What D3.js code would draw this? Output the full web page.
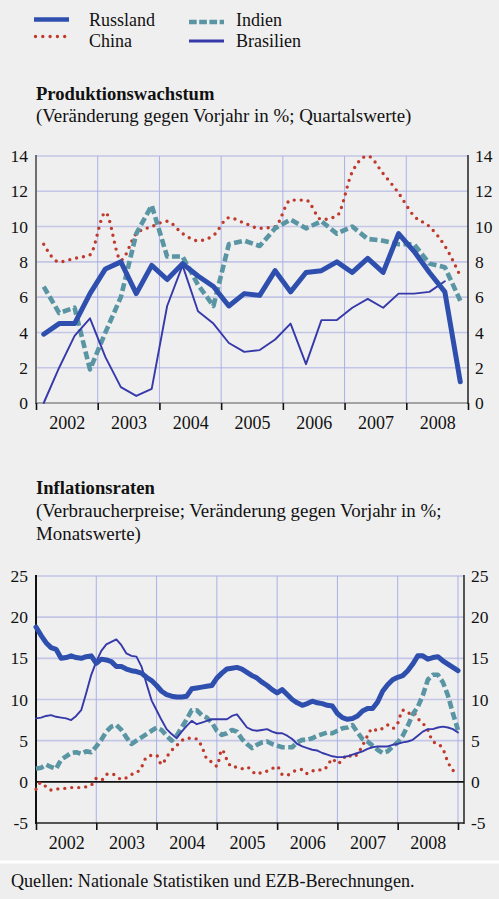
<!DOCTYPE html>
<html><head><meta charset="utf-8">
<script src="https://cdn.jsdelivr.net/npm/d3@7"></script>
<style>
html,body{margin:0;padding:0;background:#efefef;}
svg{display:block;font-family:"Liberation Serif","Times New Roman",serif;}
</style></head><body>
<svg id="c" width="499" height="899"></svg>
<script>
// ---------- DATA ----------
const seriesNames = ["Russland", "China", "Indien", "Brasilien"];
const yearLabels = ["2002","2003","2004","2005","2006","2007","2008"];
const firstYear = 2002;

// Produktionswachstum, quarterly 2002Q1 - 2008Q4
const prodRussland = [3.9,4.5,4.5,6.2, 7.6,8.0,6.2,7.8, 7.0,7.9,7.2,6.6, 5.5,6.2,6.1,7.5, 6.3,7.4,7.5,8.0, 7.4,8.2,7.4,9.6, 8.6,7.4,6.3,1.2];
const prodChina    = [9.0,8.0,8.2,8.4, 10.8,8.1,9.6,10.0, 10.3,9.6,9.2,9.5, 10.5,10.2,9.9,10.0, 11.5,11.5,10.4,10.6, 13.1,14.0,13.0,11.9, 10.6,10.0,8.9,7.2];
const prodIndien   = [6.6,5.1,5.4,1.9, 4.0,6.0,9.6,11.2, 8.3,8.3,6.7,5.5, 9.0,9.2,8.9,9.9, 10.4,9.9,10.3,9.6, 10.0,9.3,9.2,9.0, 9.0,7.9,7.7,5.8];
const prodBrasilien= [0.0,2.0,3.8,4.8, 2.6,0.9,0.4,0.8, 5.5,7.8,5.2,4.5, 3.4,2.9,3.0,3.6, 4.5,2.2,4.7,4.7, 5.4,5.9,5.4,6.2, 6.2,6.3,6.9,null];
const prodTicks = [0,2,4,6,8,10,12,14];

// Inflationsraten, monthly Jan 2002 - Jan 2009
const inflRussland = [
 18.8,17.8,16.9,16.3,16.1,15.0,15.1,15.3,15.1,15.0,15.2,15.3,
 14.4,14.9,14.8,14.6,14.0,14.0,13.7,13.5,13.4,13.2,12.7,12.3,
 11.7,11.0,10.6,10.4,10.3,10.3,10.4,11.3,11.4,11.5,11.6,11.7,
 12.6,13.2,13.7,13.8,13.9,13.7,13.3,12.9,12.6,12.1,11.7,11.2,
 10.8,11.2,10.6,10.0,9.6,9.3,9.5,9.8,9.6,9.5,9.3,9.2,
 8.3,7.8,7.6,7.7,8.0,8.6,8.9,8.9,9.7,11.0,11.8,12.4,
 12.7,12.9,13.5,14.3,15.3,15.3,14.9,15.1,15.2,14.7,14.3,13.9,
 13.5];
const inflChina = [
 -0.9,-0.1,-0.6,-1.0,-0.9,-0.8,-0.8,-0.7,-0.7,-0.7,-0.6,-0.4,
 0.4,0.2,0.9,1.0,0.7,0.3,0.5,0.9,1.1,1.8,3.0,3.2,
 3.2,2.1,3.0,3.8,4.4,5.0,5.3,5.3,5.2,4.3,2.8,2.4,
 1.9,3.9,2.7,1.8,1.8,1.6,1.8,1.3,0.9,1.2,1.3,1.6,
 1.9,0.9,0.8,1.2,1.4,1.5,1.0,1.3,1.5,1.4,1.9,2.8,
 2.2,2.7,3.3,3.0,3.4,4.4,5.6,6.5,6.2,6.5,6.9,6.5,
 7.1,8.7,8.3,8.5,7.7,7.1,6.3,4.9,4.6,4.0,2.4,1.4,
 1.0];
const inflIndien = [
 1.6,1.7,2.1,1.8,1.6,2.7,3.1,3.5,3.6,3.4,3.7,3.6,
 4.3,5.1,6.1,6.7,6.9,6.3,5.4,4.6,5.0,5.4,5.8,6.2,
 6.6,6.3,5.6,5.0,5.6,6.6,7.6,8.7,8.7,8.1,7.8,7.2,
 6.2,5.7,5.9,6.3,6.1,5.2,4.6,4.1,4.5,4.8,4.9,4.6,
 4.4,4.2,4.2,4.2,4.8,5.1,5.1,5.3,5.6,5.8,6.0,5.9,
 6.2,6.5,6.6,6.9,6.0,5.2,4.9,4.4,3.9,3.5,3.7,4.3,
 4.8,5.6,6.8,8.2,9.1,10.5,12.4,13.0,13.0,12.1,10.5,8.3,
 6.3];
const inflBrasilien = [
 7.7,7.8,8.0,8.1,7.9,7.8,7.7,7.5,8.0,8.7,10.8,13.0,
 14.6,15.9,16.7,17.0,17.3,16.6,15.6,15.3,15.2,14.0,11.9,9.9,
 8.7,7.5,6.4,5.8,5.3,6.1,6.8,7.4,7.0,7.2,7.4,7.6,
 7.6,7.6,7.6,8.0,8.2,7.4,6.6,6.3,6.2,6.3,6.4,6.1,
 5.9,5.9,5.6,5.2,4.6,4.3,4.1,3.9,3.8,3.5,3.3,3.1,
 3.0,3.0,3.1,3.3,3.5,3.7,4.0,4.2,4.3,4.3,4.3,4.5,
 4.6,4.8,4.9,5.1,5.6,6.1,6.4,6.4,6.6,6.7,6.6,6.4,
 6.0];
const inflTicks = [-5,0,5,10,15,20,25];

// ---------- STYLE ----------
const BG = "#efefef";
const FONT = 17.5;
const styles = {
  Russland:  {color:"#2e4fae", width:5,   dash:null, cap:"round"},
  China:     {color:"#bf3a2c", width:3.4, dash:"0,7", cap:"round"},
  Indien:    {color:"#5a95a4", width:4.6, dash:"8,3.5", cap:"butt"},
  Brasilien: {color:"#3539a9", width:1.9, dash:null, cap:"round"}
};

const svg = d3.select("#c");
svg.append("rect").attr("width",499).attr("height",899).attr("fill",BG);

// ---------- LEGEND ----------
const legendItems = [
  {name:"Russland", x:34, y:19.5, tx:89, ty:26, lw:4.7},
  {name:"China", x:34, y:36.5, tx:89, ty:47, lw:3.4},
  {name:"Indien", x:189, y:22, tx:236, ty:26, lw:4.7},
  {name:"Brasilien", x:189, y:41, tx:236, ty:47, lw:3}
];
legendItems.forEach(it=>{
  const s = styles[it.name];
  svg.append("line").attr("x1",it.x + (it.name==="China"?1.5:0)).attr("x2",it.x+35).attr("y1",it.y).attr("y2",it.y)
    .attr("stroke",s.color).attr("stroke-width",it.lw)
    .attr("stroke-dasharray", it.name==="China" ? "0,7.3" : (it.name==="Indien" ? "7.7,2.5" : null))
    .attr("stroke-linecap", it.name==="China" ? "round" : "butt");
  svg.append("text").attr("x",it.tx).attr("y",it.ty).attr("font-size",18).attr("fill","#111").text(it.name);
});

// ---------- TITLES ----------
function title(y, txt, bold){
  svg.append("text").attr("x",36).attr("y",y).attr("font-size",bold?18.6:18.9)
    .attr("font-weight",bold?"bold":"normal").attr("fill","#111").text(txt);
}
title(100,"Produktionswachstum",true);
title(122,"(Veränderung gegen Vorjahr in %; Quartalswerte)",false);
title(494,"Inflationsraten",true);
title(517,"(Verbraucherpreise; Veränderung gegen Vorjahr in %;",false);
title(540,"Monatswerte)",false);

// footer
svg.append("rect").attr("x",0).attr("y",863).attr("width",499).attr("height",36).attr("fill","#eeeeee");
svg.append("line").attr("x1",0).attr("x2",499).attr("y1",862).attr("y2",862).attr("stroke","#ffffff").attr("stroke-width",3);
svg.append("text").attr("x",11).attr("y",887).attr("font-size",18.1).attr("fill","#111")
  .text("Quellen: Nationale Statistiken und EZB-Berechnungen.");

// ---------- PANELS ----------
function panel(cfg){
  const g = svg.append("g");
  const x = d3.scaleLinear().domain(cfg.xDomain).range([cfg.left, cfg.right]);
  const y = d3.scaleLinear().domain(cfg.yDomain).range([cfg.bottom, cfg.top]);
  const yearStarts = yearLabels.map(d=>+d);
  const lastYear = yearStarts[yearStarts.length-1]+1;

  // horizontal grid
  g.selectAll(".hg").data(cfg.ticks.filter(t=>t!==cfg.yDomain[0] && t!==0)).enter().append("line")
    .attr("x1",cfg.left).attr("x2",cfg.gridRight).attr("y1",d=>y(d)).attr("y2",d=>y(d))
    .attr("stroke","#c3c6e6").attr("stroke-width",1.6);
  // vertical grid
  g.selectAll(".vg").data(yearStarts.slice(1).concat(cfg.gridLast?[lastYear]:[])).enter().append("line")
    .attr("x1",d=>x(d)).attr("x2",d=>x(d)).attr("y1",cfg.top).attr("y2",cfg.bottom)
    .attr("stroke","#aab0e8").attr("stroke-width",1);

  // zero line for inflation
  if (cfg.zeroLine){
    g.append("line").attr("x1",cfg.left).attr("x2",cfg.right).attr("y1",y(0)).attr("y2",y(0))
      .attr("stroke","#111").attr("stroke-width",1.6);
  }

  // bottom baseline
  g.append("line").attr("x1",cfg.left).attr("x2",cfg.right).attr("y1",cfg.bottom).attr("y2",cfg.bottom)
    .attr("stroke",cfg.baseColor).attr("stroke-width",1.6);
  // left / right axis lines
  g.append("line").attr("x1",cfg.left).attr("x2",cfg.left).attr("y1",cfg.top-1).attr("y2",cfg.bottom+1)
    .attr("stroke",cfg.leftColor).attr("stroke-width",2);
  g.append("line").attr("x1",cfg.right).attr("x2",cfg.right).attr("y1",cfg.top-1).attr("y2",cfg.bottom+1)
    .attr("stroke","#222").attr("stroke-width",1.5);

  // y labels via axes (plain hyphen for negatives)
  const fmt = d => String(d);
  const ax = d3.axisLeft(y).tickValues(cfg.ticks).tickSize(0).tickPadding(8).tickFormat(fmt);
  const ga = g.append("g").attr("transform",`translate(${cfg.left},0)`).call(ax);
  const axr = d3.axisRight(y).tickValues(cfg.ticks).tickSize(0).tickPadding(7).tickFormat(fmt);
  const gr = g.append("g").attr("transform",`translate(${cfg.right},0)`).call(axr);
  [ga,gr].forEach(a=>{
    a.select(".domain").remove();
    a.selectAll("text").attr("font-size",FONT).attr("font-family","Liberation Serif, serif").attr("fill","#111");
  });

  // year ticks
  const tk = d3.axisBottom(x).tickValues(yearStarts.concat([lastYear])).tickSize(7).tickFormat("");
  const gt = g.append("g").attr("transform",`translate(0,${cfg.bottom})`).call(tk);
  gt.select(".domain").remove();
  gt.selectAll("line").attr("stroke","#111").attr("stroke-width",1.6);
  // year labels centered
  const lb = d3.axisBottom(x).tickValues(yearStarts.map(v=>v+0.5)).tickSize(0).tickPadding(cfg.labelPad)
    .tickFormat((d,i)=>yearLabels[i]);
  const gl = g.append("g").attr("transform",`translate(0,${cfg.bottom})`).call(lb);
  gl.select(".domain").remove();
  gl.selectAll("text").attr("font-size",18).attr("font-family","Liberation Serif, serif").attr("fill","#111");

  // lines
  const order = ["China","Indien","Brasilien","Russland"];
  order.forEach(name=>{
    const vals = cfg.series[name];
    const pts = vals.map((v,i)=>({t: cfg.pos(i), v}));
    const s = styles[name];
    const line = d3.line().defined(d=>d.v!=null).x(d=>x(d.t)).y(d=>y(d.v))
      .curve(name==="China"? d3.curveMonotoneX : d3.curveLinear);
    g.append("path").datum(pts).attr("d",line).attr("fill","none")
      .attr("stroke",s.color).attr("stroke-width",s.width)
      .attr("stroke-dasharray",s.dash).attr("stroke-linecap",s.cap).attr("stroke-linejoin","round");
  });
}

panel({
  left:36, right:468, gridRight:468, top:156, bottom:403,
  xDomain:[firstYear, 2009], yDomain:[0,14], ticks:prodTicks,
  baseColor:"#8a8a8a", leftColor:"#6e6e6e", gridLast:false, zeroLine:false, labelPad:13,
  pos: i => firstYear + (i+0.5)/4,
  series:{Russland:prodRussland, China:prodChina, Indien:prodIndien, Brasilien:prodBrasilien}
});

panel({
  left:36, right:464, gridRight:464, top:576, bottom:823,
  xDomain:[firstYear, 2009.1], yDomain:[-5,25], ticks:inflTicks,
  baseColor:"#222", leftColor:"#111", gridLast:true, zeroLine:true, labelPad:13,
  pos: i => firstYear + i/12,
  series:{Russland:inflRussland, China:inflChina, Indien:inflIndien, Brasilien:inflBrasilien}
});
</script>
</body></html>
